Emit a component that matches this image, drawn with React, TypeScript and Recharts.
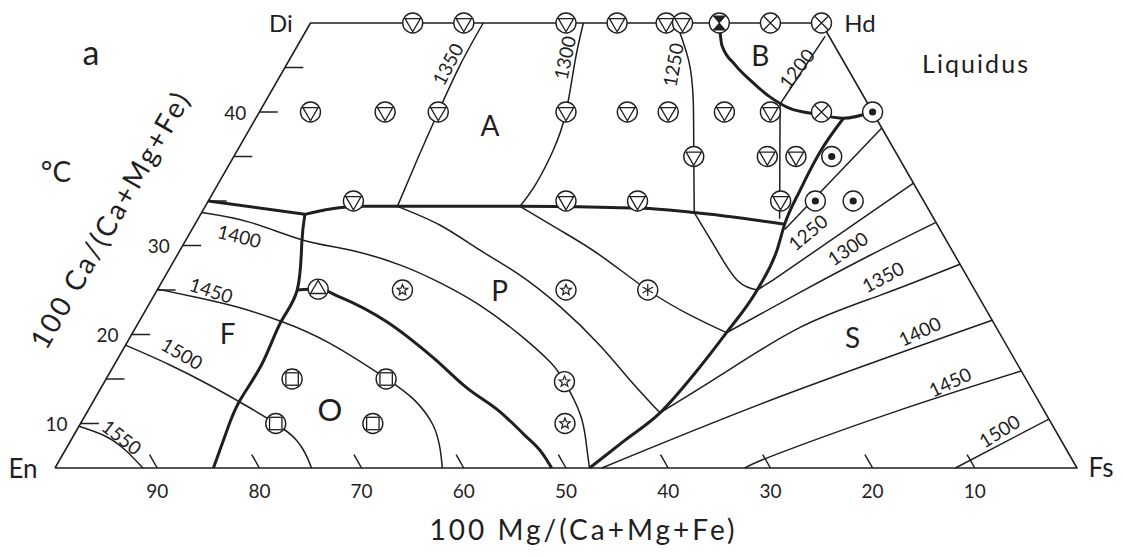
import React from "react";
import { ComposedChart, Line, Scatter, XAxis, YAxis } from "recharts";

// Compositions are [100 Mg/(Ca+Mg+Fe), 100 Ca/(Ca+Mg+Fe)]; Fe is the remainder.
type Comp = [number, number];

const INK = "#1f1f1f";
const FONT = "Lato, 'Open Sans', 'DejaVu Sans', sans-serif";

// Corners of the pyroxene quadrilateral
const cornerEn: Comp = [100, 0];
const cornerDi: Comp = [50, 50];
const cornerHd: Comp = [0, 50];
const cornerFs: Comp = [0, 0];
const outline: Comp[] = [cornerEn, cornerDi, cornerHd, cornerFs, cornerEn];

// Heavy lines: boundaries between the liquidus fields
const boundaryA_west: Comp[] = [[70, 30], [61.3, 28.5]];
const boundaryA: Comp[] = [[61.3, 28.5], [58.5, 29.1], [55.4, 29.4], [51.8, 29.4], [39.8, 29.4], [32.0, 29.3], [28.2, 29.2], [23.1, 28.7], [14.9, 27.4]];
const boundaryF: Comp[] = [[61.3, 28.5], [63.2, 25.3], [66.3, 20.0], [69.8, 16.3], [73.8, 11.8], [78.1, 7.6], [81.0, 4.3], [84.5, 0]];
const boundaryO: Comp[] = [[66.3, 20.0], [64.2, 20.1], [62.5, 19.2], [59.3, 16.4], [56.8, 12.4], [55.2, 9.0], [53.3, 6.3], [52.2, 3.7], [51.5, 1.7], [51.4, 0]];
const boundaryS: Comp[] = [[47.7, 0], [42.7, 3.1], [37.7, 6.2], [32.0, 10.7], [26.7, 15.2], [21.3, 20.0], [17.1, 24.5], [14.9, 27.4], [11.5, 31.2], [7.5, 35.4], [3.2, 39.3]];
const boundaryB: Comp[] = [[10, 50], [11.0, 47.5], [10.8, 45.3], [10.2, 43.6], [9.2, 41.7], [7.9, 40.4], [5.8, 39.8], [3.2, 39.3], [0, 40]];

// Liquidus isotherms (°C)
const iso1200: Comp[] = [[0.4, 48.5], [8.6, 40.9]];
const isoB_tie: Comp[] = [[8.6, 40.9], [15.1, 28.0]];
const isoS_upper: Comp[] = [[15.2, 26.8], [0, 38.2]];
const iso1250A: Comp[] = [[14.2, 50], [15.1, 45.8], [16.9, 41.3], [20, 35], [23.1, 28.7]];
const iso1250P: Comp[] = [[23.1, 28.7], [23.0, 24.5], [22.7, 21.1], [21.3, 20.0]];
const iso1250S: Comp[] = [[21.3, 20.0], [19.2, 21.1], [0, 32.0]];
const iso1300A: Comp[] = [[23.3, 50], [26.2, 45.8], [30, 40], [33.4, 35.7], [37.1, 31.8], [39.8, 29.4]];
const iso1300P: Comp[] = [[39.8, 29.4], [37.2, 26.7], [34.7, 23.9], [32, 20], [29.3, 17.2], [26.7, 15.2]];
const iso1300S: Comp[] = [[26.7, 15.2], [17.3, 19.7], [8.3, 23.9], [0, 27.6]];
const iso1350A: Comp[] = [[33.1, 50], [37.7, 45.3], [42.5, 40], [47.1, 34.8], [51.8, 29.4]];
const iso1350P: Comp[] = [[51.8, 29.4], [48.7, 27.3], [46.2, 24.5], [43.7, 21.7], [41.5, 18.1], [39.8, 13.8], [38.8, 9.9], [37.7, 6.2]];
const iso1350S: Comp[] = [[37.7, 6.2], [29.7, 10.4], [19.2, 15.8], [9.6, 19.4], [0, 22.9]];
const iso1400W: Comp[] = [[71.3, 28.7], [67.1, 27.6], [62.9, 25.6], [58.9, 24.5], [54.8, 22.8], [51.9, 20.8], [49.3, 18.3], [47.0, 14.9], [45.6, 11.9], [45.3, 9.7], [45.6, 6.0], [46.7, 2.6], [47.7, 0]];
const iso1400S: Comp[] = [[46.5, 0], [25.1, 8.0], [0, 16.6]];
const iso1450W: Comp[] = [[79.9, 20.1], [76.3, 19.1], [72.9, 18.0], [69.5, 16.4], [66.1, 14.0], [62.6, 10.1], [61.0, 7.6], [60.6, 4.8], [61.3, 2.0], [62.1, 0]];
const iso1450S: Comp[] = [[32.5, 0], [28.2, 1.7], [14.1, 6.5], [0, 10.9]];
const iso1500W: Comp[] = [[86.2, 13.8], [83.0, 11.6], [80.2, 9.3], [78.2, 7.4], [75.9, 5.0], [74.8, 3.1], [74.7, 1.5], [74.9, 0]];
const iso1500S: Comp[] = [[11.9, 0], [0, 5.5]];
const iso1550: Comp[] = [[95.3, 4.7], [93.3, 3.6], [92.1, 2.0], [91.4, 0]];

// Run compositions, grouped by the phase on the liquidus
const augiteRuns: Comp[] = [
  [40, 50], [35, 50], [25, 50], [20, 50], [15.2, 50], [13.6, 50],
  [55, 40], [47.7, 40], [42.5, 40], [30, 40], [24, 40], [20, 40], [14.5, 40], [10, 40],
  [20, 35], [12.8, 35], [10, 35],
  [55.8, 30], [35, 30], [28, 30], [14, 30],
];
const ferroRuns: Comp[] = [[5, 50], [0, 50], [5, 40]];
const boundaryRuns: Comp[] = [[10, 50]];
const subcalcicRuns: Comp[] = [[0, 40], [6.5, 35], [10.6, 30], [6.9, 30]];
const pigeoniteRuns: Comp[] = [[56, 20], [40, 20], [45.3, 9.7], [47.6, 5]];
const pigeoniteLiqRuns: Comp[] = [[32, 20]];
const forsteriteRuns: Comp[] = [[64.2, 20.1]];
const orthoRuns: Comp[] = [[71.8, 10], [62.6, 10], [75.9, 5], [66.4, 5]];

// Field names
const fieldNames = ["A", "B", "P", "F", "S", "O"];
const fieldAt: Comp[] = [[38.2, 38.5], [7.8, 46.4], [46.5, 20], [75.5, 15.2], [14.6, 14.7], [69.8, 6.6]];

// Isotherm labels
const isoTemps = [1350, 1300, 1250, 1200, 1400, 1450, 1500, 1550, 1250, 1300, 1350, 1400, 1450, 1500];
const isoTempAt: Comp[] = [
  [38.9, 45.4], [27.1, 46.1], [16.9, 45.3], [5.0, 44.9],
  [68.9, 26.1], [74.7, 20.0], [81.1, 12.9], [91.7, 3.5],
  [13.1, 26.5], [10.1, 24.7], [8.25, 21.5], [7.7, 15.4], [7.6, 9.7], [5.5, 4.2],
];
const isoTempAngle = [-62, -78, -80, -52, 14, 18, 30, 38, -40, -34, -28, -25, -25, -32];

// Axis ticks
const mgTicks = [90, 80, 70, 60, 50, 40, 30, 20, 10];
const caTickMarks = [5, 10, 15, 20, 25, 30, 35, 40, 45];
const caTickLabels = ["10", "20", "30", "40"];
const caTickLabelAt = [5, 15, 25, 40];

// Composition -> plane of the diagram (x along En–Fs, y = Ca)
const toXY = ([mg, ca]: Comp) => ({ x: 100 - mg - ca / 2, y: ca });
const seg = (pts: Comp[]) => pts.map(toXY);

type Curve = { id: string; pts: Comp[]; w: number; type: "linear" | "natural" | "monotone" };
const curves: Curve[] = [
  { id: "outline", pts: outline, w: 1.6, type: "linear" },
  { id: "iso1200", pts: iso1200, w: 1.5, type: "linear" },
  { id: "isoBtie", pts: isoB_tie, w: 1.5, type: "linear" },
  { id: "isoSup", pts: isoS_upper, w: 1.5, type: "linear" },
  { id: "i1250A", pts: iso1250A, w: 1.5, type: "natural" },
  { id: "i1250P", pts: iso1250P, w: 1.5, type: "natural" },
  { id: "i1250S", pts: iso1250S, w: 1.5, type: "linear" },
  { id: "i1300A", pts: iso1300A, w: 1.5, type: "natural" },
  { id: "i1300P", pts: iso1300P, w: 1.5, type: "natural" },
  { id: "i1300S", pts: iso1300S, w: 1.5, type: "natural" },
  { id: "i1350A", pts: iso1350A, w: 1.5, type: "natural" },
  { id: "i1350P", pts: iso1350P, w: 1.5, type: "natural" },
  { id: "i1350S", pts: iso1350S, w: 1.5, type: "natural" },
  { id: "i1400W", pts: iso1400W, w: 1.5, type: "natural" },
  { id: "i1400S", pts: iso1400S, w: 1.5, type: "natural" },
  { id: "i1450W", pts: iso1450W, w: 1.5, type: "natural" },
  { id: "i1450S", pts: iso1450S, w: 1.5, type: "natural" },
  { id: "i1500W", pts: iso1500W, w: 1.5, type: "natural" },
  { id: "i1500S", pts: iso1500S, w: 1.5, type: "linear" },
  { id: "i1550", pts: iso1550, w: 1.5, type: "natural" },
  { id: "bAw", pts: boundaryA_west, w: 3, type: "linear" },
  { id: "bA", pts: boundaryA, w: 3, type: "monotone" },
  { id: "bF", pts: boundaryF, w: 3, type: "natural" },
  { id: "bO", pts: boundaryO, w: 3, type: "monotone" },
  { id: "bS", pts: boundaryS, w: 3, type: "monotone" },
  { id: "bB", pts: boundaryB, w: 3, type: "monotone" },
];

// Short tick strokes: horizontal on the En–Di side, along constant Mg on the base
const tickCurves: Comp[][] = [
  ...caTickMarks.map((c): Comp[] => [[100 - c, c], [100 - c - 1.8, c]]),
  ...mgTicks.map((m): Comp[] => [[m, 0], [m, 1.5]]),
];

const R = 10;
const ring = (p: any, inner: React.ReactNode) => (
  <g transform={`translate(${p.cx},${p.cy})`}>
    <circle r={R} fill="#fff" stroke={INK} strokeWidth={1.4} />
    {inner}
  </g>
);
const k = R - 1.2;
const triDownPath = `M0,${k} L${-k * 0.866},${-k / 2} L${k * 0.866},${-k / 2} Z`;
const triUpPath = `M0,${-k} L${-k * 0.866},${k / 2} L${k * 0.866},${k / 2} Z`;
const starPath = (() => {
  const pts: string[] = [];
  for (let i = 0; i < 10; i++) {
    const r = i % 2 === 0 ? 5.6 : 2.4;
    const a = -Math.PI / 2 + (i * Math.PI) / 5;
    pts.push(`${(r * Math.cos(a)).toFixed(2)},${(r * Math.sin(a)).toFixed(2)}`);
  }
  return `M${pts.join(" L")} Z`;
})();
const q = R * 0.62;

const shapeAugite = (p: any) => ring(p, <path d={triDownPath} fill="none" stroke={INK} strokeWidth={1.3} />);
const shapeFerro = (p: any) =>
  ring(p, <path d={`M${-6.5},${-6.5} L6.5,6.5 M6.5,${-6.5} L${-6.5},6.5`} stroke={INK} strokeWidth={1.3} />);
const shapeBoundary = (p: any) =>
  ring(p, <path d={`M${-6},${-7} L6,${-7} L${-6},7 L6,7 Z`} fill={INK} stroke={INK} strokeWidth={1} />);
const shapeSubcalcic = (p: any) => ring(p, <circle r={3.6} fill={INK} />);
const shapePigeonite = (p: any) => ring(p, <path d={starPath} fill="none" stroke={INK} strokeWidth={1.2} />);
const shapePigLiq = (p: any) =>
  ring(p, <path d={`M0,-6 L0,6 M-5.2,-3 L5.2,3 M5.2,-3 L-5.2,3`} stroke={INK} strokeWidth={1.2} />);
const shapeForsterite = (p: any) => ring(p, <path d={triUpPath} fill="none" stroke={INK} strokeWidth={1.3} />);
const shapeOrtho = (p: any) =>
  ring(p, <rect x={-q} y={-q} width={2 * q} height={2 * q} fill="none" stroke={INK} strokeWidth={1.3} />);

const fieldData = fieldNames.map((t, i) => ({ ...toXY(fieldAt[i]), t }));
const isoLabelData = isoTemps.map((t, i) => ({ ...toXY(isoTempAt[i]), t: String(t), a: isoTempAngle[i] }));
const caLabelData = caTickLabels.map((t, i) => ({ ...toXY([100 - caTickLabelAt[i], caTickLabelAt[i]]), t }));

const fieldShape = (p: any) => (
  <text x={p.cx} y={p.cy} textAnchor="middle" dominantBaseline="central" fontFamily={FONT} fontSize={p.payload.t === "O" ? 31 : 28} fill={INK}>
    {p.payload.t}
  </text>
);
const isoShape = (p: any) => (
  <text
    x={p.cx}
    y={p.cy}
    textAnchor="middle"
    dominantBaseline="central"
    fontFamily={FONT}
    fontSize={19}
    fill={INK}
    transform={`rotate(${p.payload.a},${p.cx},${p.cy})`}
  >
    {p.payload.t}
  </text>
);
const caLabelShape = (p: any) => (
  <text x={p.cx - 13} y={p.cy} textAnchor="end" dominantBaseline="central" fontFamily={FONT} fontSize={19} fill={INK}>
    {p.payload.t}
  </text>
);

const markerSets: { id: string; pts: Comp[]; shape: (p: any) => React.ReactElement }[] = [
  { id: "aug", pts: augiteRuns, shape: shapeAugite },
  { id: "fer", pts: ferroRuns, shape: shapeFerro },
  { id: "bnd", pts: boundaryRuns, shape: shapeBoundary },
  { id: "sub", pts: subcalcicRuns, shape: shapeSubcalcic },
  { id: "pig", pts: pigeoniteRuns, shape: shapePigeonite },
  { id: "pgl", pts: pigeoniteLiqRuns, shape: shapePigLiq },
  { id: "fo", pts: forsteriteRuns, shape: shapeForsterite },
  { id: "opx", pts: orthoRuns, shape: shapeOrtho },
];

const W = 1115;
const H = 549;

export default function App() {
  return (
    <div style={{ width: W, height: H, background: "#fff" }}>
      <ComposedChart width={W} height={H} margin={{ top: 15, right: 46, bottom: 59, left: 47 }}>
        <XAxis
          type="number"
          dataKey="x"
          domain={[0, 100]}
          ticks={mgTicks.map((m) => 100 - m)}
          interval={0}
          tickFormatter={(v: number) => String(100 - v)}
          axisLine={false}
          tickLine={false}
          tickSize={0}
          tickMargin={17}
          height={30}
          tick={{ fontSize: 19, fill: INK, fontFamily: FONT }}
        />
        <YAxis type="number" dataKey="y" domain={[0, 50]} hide />

        {curves.map((c) => (
          <Line
            key={c.id}
            data={seg(c.pts)}
            dataKey="y"
            type={c.type}
            stroke={INK}
            strokeWidth={c.w}
            strokeLinejoin="round"
            dot={false}
            activeDot={false}
            isAnimationActive={false}
            legendType="none"
          />
        ))}
        {tickCurves.map((t, i) => (
          <Line
            key={`tick${i}`}
            data={seg(t)}
            dataKey="y"
            type="linear"
            stroke={INK}
            strokeWidth={1.5}
            dot={false}
            activeDot={false}
            isAnimationActive={false}
            legendType="none"
          />
        ))}

        {markerSets.map((m) => (
          <Scatter key={m.id} data={seg(m.pts)} shape={m.shape} isAnimationActive={false} legendType="none" />
        ))}

        <Scatter data={fieldData} shape={fieldShape} isAnimationActive={false} legendType="none" />
        <Scatter data={isoLabelData} shape={isoShape} isAnimationActive={false} legendType="none" />
        <Scatter data={caLabelData} shape={caLabelShape} isAnimationActive={false} legendType="none" />

        <text x={83} y={57} textAnchor="middle" fontFamily={FONT} fontSize={34} fill={INK}>a</text>
        <text x={48} y={174} textAnchor="middle" fontFamily={FONT} fontSize={28} fill={INK}>°C</text>
        <text x={273} y={24} textAnchor="middle" fontFamily={FONT} fontSize={24} fill={INK}>Di</text>
        <text x={852} y={24} textAnchor="middle" fontFamily={FONT} fontSize={24} fill={INK}>Hd</text>
        <text x={15} y={470} textAnchor="middle" fontFamily={FONT} fontSize={26} fill={INK}>En</text>
        <text x={1093} y={469} textAnchor="middle" fontFamily={FONT} fontSize={26} fill={INK}>Fs</text>
        <text x={914} y={65} fontFamily={FONT} fontSize={25} fill={INK} textLength={106} lengthAdjust="spacing">Liquidus</text>
        <text x={574} y={532} textAnchor="middle" fontFamily={FONT} fontSize={28} fill={INK} textLength={305} lengthAdjust="spacing">
          100 Mg/(Ca+Mg+Fe)
        </text>
        <text
          x={101}
          y={212}
          textAnchor="middle"
          dominantBaseline="central"
          fontFamily={FONT}
          fontSize={28}
          fill={INK}
          textLength={290}
          lengthAdjust="spacing"
          transform="rotate(-60.1,101,212)"
        >
          100 Ca/(Ca+Mg+Fe)
        </text>
      </ComposedChart>
    </div>
  );
}
